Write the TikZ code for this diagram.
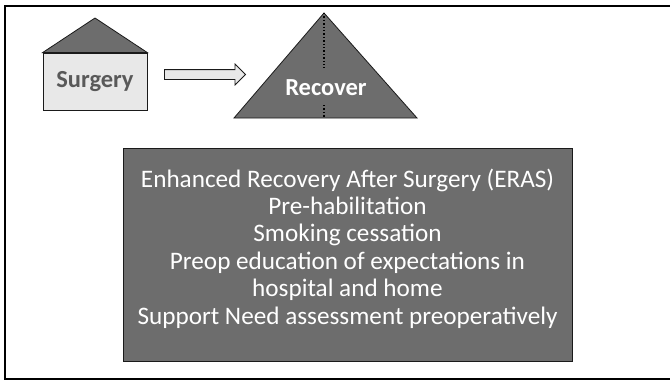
\documentclass[tikz,border=0pt]{standalone}
\usepackage{fontspec}
\setmainfont{Carlito}
\usetikzlibrary{positioning, shapes.arrows}
\definecolor{clrdark}{HTML}{6D6D6D}
\definecolor{clrlight}{HTML}{E8E8E8}
\definecolor{clrlabel}{HTML}{595959}
\definecolor{clrborder}{HTML}{1A1A1A}

\begin{document}
\begin{tikzpicture}[
    x=1pt, y=-1pt,
    every node/.style={font=\fontsize{25.2}{27.4}\selectfont},
    body/.style={draw=clrborder, fill=clrlight, line width=0.8pt, minimum width=104pt,
                 minimum height=57pt, text=clrlabel, font=\fontsize{24.5}{26}\selectfont\bfseries},
    roof/.style={draw=clrborder, fill=clrdark, line width=0.8pt},
    blockarrow/.style={single arrow, draw=clrborder, fill=clrlight, line width=0.8pt,
                       minimum height=81pt, minimum width=20pt, inner sep=4.5pt,
                       single arrow head extend=5.5pt, single arrow tip angle=90},
    infobox/.style={draw=clrborder, fill=clrdark, line width=0.8pt, minimum width=449pt,
                    minimum height=213pt, text=white, align=center},
    frame/.style={draw=black, line width=2pt},
    midline/.style={draw=black, line width=1.4pt, dotted},
]
\useasboundingbox (0,0) rectangle (670,380);
\draw[frame] (672,6) -- (5,6) -- (5,379) -- (672,379);
% house
\node[body] (surgery) at (95,81.5) {\raisebox{-2pt}{Surgery}};
\coordinate (roof_top) at (95,18);
\draw[roof] (surgery.north west) -- (roof_top) -- (surgery.north east) -- cycle;
% recover triangle
\coordinate (tri_l) at (234,118);
\coordinate (tri_t) at (324,13);
\coordinate (tri_r) at (417,118);
\draw[roof] (tri_l) -- (tri_t) -- (tri_r) -- cycle;
\node[text=white, font=\fontsize{24.5}{26}\selectfont\bfseries] (recover) at (326,88) {Recover};
\draw[midline] (tri_t) -- (324,68);
\draw[midline] (324,105) -- (324,118);
\node[blockarrow] (step_arrow) at (202.5,74.5) {};
% ERAS box
\node[infobox] (eras) at (347.5,254.5) {Enhanced Recovery After Surgery (ERAS)\\
  Pre-habilitation\\ Smoking cessation\\ Preop education of expectations in\\
  hospital and home\\ Support Need assessment preoperatively\\[-11pt]};
\end{tikzpicture}
\end{document}
